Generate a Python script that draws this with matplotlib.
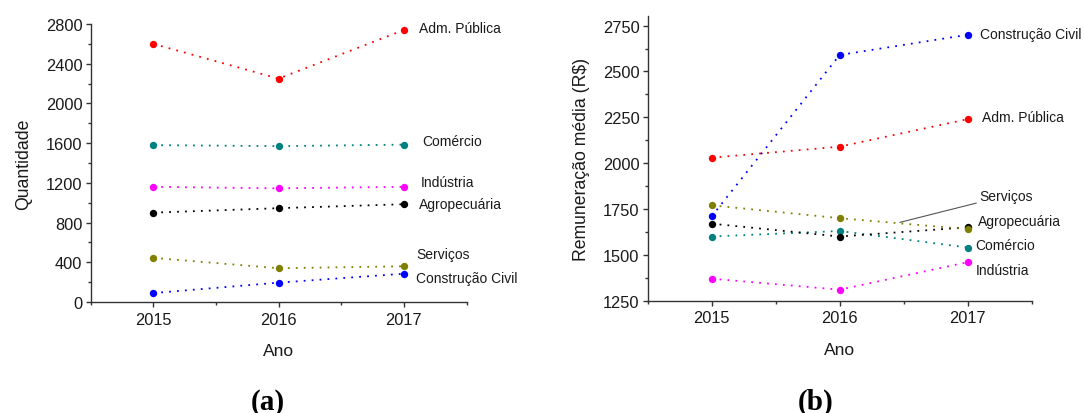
import matplotlib.pyplot as plt
from matplotlib.ticker import MultipleLocator

plt.rcParams['font.family'] = ['Liberation Sans', 'DejaVu Sans']

anos = [2015, 2016, 2017]
setores = ['Adm. Pública', 'Comércio', 'Indústria', 'Agropecuária', 'Serviços', 'Construção Civil']
cores = ['#ff0000', '#008080', '#ff00ff', '#000000', '#808000', '#0000ff']

# (a) quantidade de vínculos por setor
qtd_adm = [2600, 2250, 2740]
qtd_com = [1580, 1570, 1585]
qtd_ind = [1160, 1145, 1160]
qtd_agro = [900, 945, 985]
qtd_serv = [445, 340, 360]
qtd_cc = [90, 195, 285]

# (b) remuneração média por setor (R$)
rem_adm = [2030, 2090, 2240]
rem_com = [1600, 1630, 1540]
rem_ind = [1370, 1310, 1460]
rem_agro = [1670, 1600, 1650]
rem_serv = [1770, 1700, 1640]
rem_cc = [1710, 2590, 2700]

qtd = [qtd_adm, qtd_com, qtd_ind, qtd_agro, qtd_serv, qtd_cc]
rem = [rem_adm, rem_com, rem_ind, rem_agro, rem_serv, rem_cc]

# posição dos rótulos (x, y) em coordenadas de dados
rot_a = [(2017.12, 2757), (2017.15, 1619), (2017.134, 1212),
         (2017.12, 990), (2017.10, 483), (2017.10, 245)]
rot_b = [(2017.11, 2254), (2017.06, 1554), (2017.06, 1419),
         (2017.08, 1685), (2017.09, 1823), (2017.096, 2705)]

fig = plt.figure(figsize=(10.84, 4.14), dpi=100)
ax1 = fig.add_axes([0.0836, 0.2681, 0.3468, 0.6715])
ax2 = fig.add_axes([0.5975, 0.2713, 0.3542, 0.6865])

txt = '#1a1a1a'

def desenha(ax, dados, rotulos):
    for nome, cor, y, (tx, ty) in zip(setores, cores, dados, rotulos):
        ax.plot(anos, y, color=cor, linestyle=(0, (1, 3.4)), linewidth=1.3,
                marker='o', markersize=5.3, markeredgewidth=0, zorder=3)
        if nome == 'Serviços' and ax is ax2:
            ax.annotate(nome, xy=(2016.47, 1677), xytext=(tx, ty),
                        fontsize=10, color=txt, va='center', ha='left',
                        arrowprops=dict(arrowstyle='-', color='#555555', lw=0.8,
                                        shrinkA=0, shrinkB=0))
        else:
            ax.text(tx, ty, nome, fontsize=10, color=txt, va='center', ha='left')
    ax.set_xlim(2014.5, 2017.5)
    ax.set_xticks(anos)
    ax.xaxis.set_minor_locator(MultipleLocator(0.5))
    ax.spines['top'].set_visible(False)
    ax.spines['right'].set_visible(False)
    for s in ['left', 'bottom']:
        ax.spines[s].set_color('#333333')
        ax.spines[s].set_linewidth(1.0)
    ax.tick_params(which='major', direction='out', length=3.4, width=1,
                   labelsize=11.8, colors='#333333', labelcolor=txt)
    ax.tick_params(which='minor', direction='out', length=2, width=1, colors='#333333')
    ax.tick_params(axis='y', pad=2.5)
    ax.set_xlabel('Ano', fontsize=12.5, color=txt, labelpad=12)

desenha(ax1, qtd, rot_a)
ax1.set_ylim(0, 2800)
ax1.yaxis.set_major_locator(MultipleLocator(400))
ax1.yaxis.set_minor_locator(MultipleLocator(200))
ax1.set_ylabel('Quantidade', fontsize=12.7, color=txt, labelpad=10)

desenha(ax2, rem, rot_b)
ax2.set_ylim(1250, 2800)
ax2.set_yticks([1250, 1500, 1750, 2000, 2250, 2500, 2750])
ax2.yaxis.set_minor_locator(MultipleLocator(125))
ax2.set_ylabel('Remuneração média (R$)', fontsize=12.7, color=txt, labelpad=9)

fig.text(0.247, 0.011, '(a)', fontsize=21, fontweight='bold',
         family='Liberation Serif', ha='center', va='baseline')
fig.text(0.752, 0.011, '(b)', fontsize=21, fontweight='bold',
         family='Liberation Serif', ha='center', va='baseline')

plt.savefig('out.png', dpi=100)
